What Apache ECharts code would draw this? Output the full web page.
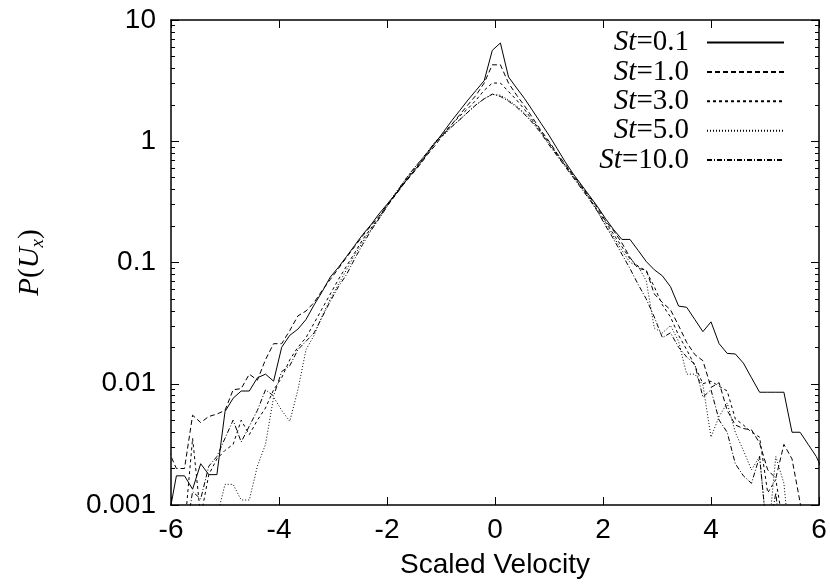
<!DOCTYPE html>
<html><head><meta charset="utf-8">
<script src="https://cdn.jsdelivr.net/npm/echarts@6/dist/echarts.min.js"></script>
<style>html,body{margin:0;padding:0;background:#fff}#c{width:830px;height:584px}</style>
</head><body><div id="c"></div>
<script>
// Bin centres (scaled velocity)
const velocity = [-6.05,-5.90,-5.75,-5.60,-5.45,-5.30,-5.15,-5.00,-4.85,-4.70,-4.55,-4.40,-4.25,-4.10,-3.95,-3.80,-3.65,-3.50,-3.35,-3.20,
  -3.05,-2.90,-2.75,-2.60,-2.45,-2.30,-2.15,-2.00,-1.85,-1.70,-1.55,-1.40,-1.25,-1.10,-0.95,-0.80,-0.65,-0.50,-0.35,-0.20,
  -0.05,0.10,0.25,0.40,0.55,0.70,0.85,1.00,1.15,1.30,1.45,1.60,1.75,1.90,2.05,2.20,2.35,2.50,2.65,2.80,
  2.95,3.10,3.25,3.40,3.55,3.70,3.85,4.00,4.15,4.30,4.45,4.60,4.75,4.90,5.05,5.20,5.35,5.50,5.65,5.80,5.95,6.10];

const pSt01 = [0.000759,0.00174,0.00174,0.00135,0.00219,0.00178,0.00178,0.00589,0.00759,0.00871,0.00871,0.0112,0.0120,0.0105,0.0200,0.0251,0.0282,0.0339,0.0447,0.0575,
  0.0759,0.0912,0.112,0.138,0.170,0.204,0.251,0.302,0.363,0.441,0.537,0.646,0.794,0.977,1.20,1.48,1.80,2.19,2.63,3.16,
  5.62,6.46,3.39,2.75,2.24,1.78,1.41,1.12,0.871,0.676,0.537,0.437,0.355,0.288,0.229,0.186,0.155,0.155,0.126,0.102,
  0.0871,0.0776,0.0631,0.0437,0.0427,0.0339,0.0269,0.0324,0.0214,0.0178,0.0176,0.0148,0.0112,0.00851,0.00851,0.00851,0.00851,0.00398,0.00398,0.00316,0.00251,0.00178];

const pSt1 = [0.00282,0.00200,0.00200,0.00550,0.00479,0.00537,0.00562,0.00603,0.00891,0.00912,0.0120,0.0107,0.0158,0.0214,0.0214,0.0275,0.0363,0.0398,0.0468,0.0589,
  0.0724,0.0891,0.110,0.135,0.166,0.200,0.240,0.295,0.355,0.437,0.525,0.631,0.776,0.933,1.15,1.38,1.66,2.00,2.40,3.02,
  4.27,4.27,3.02,2.40,1.95,1.55,1.23,1.00,0.794,0.646,0.525,0.427,0.347,0.282,0.219,0.182,0.145,0.110,0.0891,0.0871,
  0.0550,0.0468,0.0407,0.0302,0.0219,0.0174,0.0155,0.00933,0.0102,0.00603,0.00457,0.00427,0.00417,0.00324,0.00195,0.00166,0.00316,0.00240,0.00105,0.000316,0.000316,0.000316];

const pSt3 = [0.000501,0.000501,0.000631,0.00355,0.000794,0.00178,0.00240,0.00282,0.00316,0.00501,0.00380,0.00501,0.00631,0.00891,0.0112,0.0158,0.0200,0.0240,0.0316,0.0417,
  0.0550,0.0724,0.0933,0.120,0.155,0.191,0.234,0.295,0.363,0.447,0.550,0.661,0.813,0.977,1.17,1.38,1.62,1.86,2.19,2.63,
  3.02,3.02,2.57,2.19,1.82,1.48,1.20,0.977,0.776,0.631,0.513,0.417,0.339,0.269,0.214,0.170,0.135,0.107,0.0933,0.0851,
  0.0631,0.0447,0.0355,0.0251,0.0191,0.0141,0.0100,0.0105,0.00955,0.00871,0.00513,0.00457,0.00398,0.00363,0.00126,0.00162,0.000631,0.000316,0.000316,0.000316,0.000316,0.000316];

const pSt5 = [0.000316,0.000316,0.000501,0.000501,0.000501,0.000501,0.000794,0.00148,0.00148,0.00110,0.00110,0.00209,0.00316,0.00776,0.00603,0.00490,0.00891,0.0191,0.0251,0.0363,
  0.0501,0.0661,0.0871,0.115,0.148,0.186,0.229,0.295,0.372,0.457,0.562,0.676,0.813,1.00,1.12,1.32,1.51,1.74,2.00,2.24,
  2.43,2.40,2.19,1.95,1.70,1.45,1.19,0.955,0.776,0.631,0.513,0.417,0.339,0.263,0.204,0.162,0.126,0.100,0.0933,0.0708,
  0.0288,0.0263,0.0302,0.0224,0.0120,0.0120,0.00977,0.00363,0.00537,0.00692,0.00398,0.00282,0.00195,0.00251,0.000501,0.00251,0.00151,0.000316,0.000316,0.000316,0.000316,0.000316];

const pSt10 = [0.000501,0.000501,0.000501,0.00129,0.00112,0.00209,0.00251,0.00355,0.00501,0.00331,0.00447,0.00603,0.00891,0.00794,0.0126,0.0141,0.0191,0.0224,0.0263,0.0355,
  0.0479,0.0631,0.0794,0.107,0.141,0.182,0.229,0.288,0.363,0.457,0.562,0.676,0.813,1.00,1.15,1.32,1.51,1.74,2.00,2.24,
  2.45,2.34,2.14,1.91,1.66,1.41,1.17,0.933,0.759,0.617,0.501,0.407,0.331,0.263,0.200,0.155,0.117,0.0891,0.0661,0.0501,
  0.0355,0.0240,0.0263,0.0200,0.0166,0.0145,0.00776,0.00891,0.00501,0.00398,0.00219,0.00174,0.00151,0.00251,0.000501,0.00126,0.000316,0.000316,0.000316,0.000316,0.000316,0.000316];

const seriesNames = ['St=0.1','St=1.0','St=3.0','St=5.0','St=10.0'];
const seriesData = [pSt01, pSt1, pSt3, pSt5, pSt10];
const dashPatterns = ['solid', [5,3], [3,3], [1,2], [5,2,1,2]];

const xTicks = [-6,-4,-2,0,2,4,6];
const yMajor = [0.001,0.01,0.1,1,10];
const yMinor = [0.002,0.003,0.004,0.005,0.006,0.007,0.008,0.009,
  0.02,0.03,0.04,0.05,0.06,0.07,0.08,0.09,
  0.2,0.3,0.4,0.5,0.6,0.7,0.8,0.9,
  2,3,4,5,6,7,8,9];

const sans = 'Liberation Sans, Arial, Helvetica, sans-serif';
const serif = 'Liberation Serif, Times New Roman, serif';
const frameLine = {show:true, onZero:false, lineStyle:{color:'#000', width:1.5}};

function xAx(pos, labels){
  return {type:'value', position:pos, min:-6, max:6, interval:2,
    axisLine: frameLine, axisTick:{show:true, inside:true, length:8, customValues:xTicks, lineStyle:{color:'#000', width:1}},
    axisLabel:{show:labels, color:'#000', fontFamily:sans, fontSize:28, margin:11},
    splitLine:{show:false},
    name: labels ? 'Scaled Velocity' : '', nameLocation:'middle', nameGap:46,
    nameTextStyle:{color:'#000', fontFamily:sans, fontSize:28}};
}
function yAx(pos, major, labels){
  return {type:'log', logBase:10, position:pos, min:0.001, max:10,
    axisLine: major ? frameLine : {show:false, onZero:false},
    axisTick:{show:true, inside:true, length: major?8:4, customValues: major?yMajor:yMinor, lineStyle:{color:'#000', width:1}},
    axisLabel:{show:labels, customValues:yMajor, color:'#000', fontFamily:sans, fontSize:28, margin:15,
      formatter: v => String(v)},
    splitLine:{show:false}, minorTick:{show:false},
    name: labels ? '{i|P}{n|(}{i|U}{s|x}{n|)}' : '', nameLocation:'middle', nameGap:124, nameRotate:90,
    nameTextStyle:{rich:{
      i:{fontFamily:serif, fontStyle:'italic', fontSize:29, color:'#000', lineHeight:34},
      n:{fontFamily:serif, fontSize:29, color:'#000', lineHeight:34},
      s:{fontFamily:serif, fontStyle:'italic', fontSize:19, color:'#000', lineHeight:34, verticalAlign:'bottom'}
    }}};
}

const chart = echarts.init(document.getElementById('c'), null, {renderer:'canvas'});
chart.setOption({
  animation:false,
  backgroundColor:'#fff',
  grid:{left:171, right:11, top:20, bottom:75, containLabel:false},
  xAxis:[xAx('bottom', true), xAx('top', false)],
  yAxis:[yAx('left', true, true), yAx('left', false, false), yAx('right', true, false), yAx('right', false, false)],
  legend:{
    orient:'vertical', align:'right', right:45, top:28, padding:0,
    itemWidth:77, itemHeight:14, itemGap:0.4,
    data: seriesNames,
    itemStyle:{opacity:0},
    formatter: name => '{i|St}{r|' + name.slice(2) + '}',
    textStyle:{padding:[0,13,0,0], lineHeight:28, rich:{
      i:{fontFamily:serif, fontStyle:'italic', fontSize:29, color:'#000', lineHeight:28},
      r:{fontFamily:serif, fontSize:29, color:'#000', lineHeight:28}
    }}
  },
  series: seriesNames.map((n, k) => ({
    name:n, type:'line', xAxisIndex:0, yAxisIndex:0, symbol:'none', showSymbol:false, clip:true,
    lineStyle:{color:'#000', width:1, type:dashPatterns[k]},
    itemStyle:{color:'#000'},
    data: velocity.map((v, i) => [v, seriesData[k][i]])
  }))
});
</script></body></html>
